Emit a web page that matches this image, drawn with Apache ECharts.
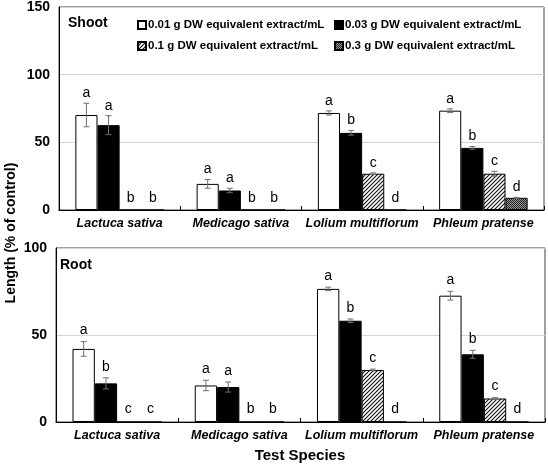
<!DOCTYPE html>
<html><head><meta charset="utf-8">
<script src="https://cdn.jsdelivr.net/npm/echarts@6/dist/echarts.min.js"></script>
<style>html,body{margin:0;padding:0;background:#fff}#c{width:548px;height:466px}</style>
</head><body><div id="c"></div>
<script>
const categories = ['Lactuca sativa', 'Medicago sativa', 'Lolium multiflorum', 'Phleum pratense'];
const seriesNames = ['0.01 g DW equivalent extract/mL', '0.03 g DW equivalent extract/mL', '0.1 g DW equivalent extract/mL', '0.3 g DW equivalent extract/mL'];

// Shoot (% of control)
const shoot001 = [70.2, 19.3, 71.7, 73.4];
const shoot003 = [62.7, 14.4, 57.0, 45.9];
const shoot01  = [0, 0, 26.8, 26.8];
const shoot03  = [0, 0, 0, 9.0];
const shootErr001 = [8.7, 3.2, 1.5, 1.4];
const shootErr003 = [7.0, 1.6, 1.7, 1.0];
const shootErr01  = [0, 0, 0.6, 1.8];
const shootErr03  = [0, 0, 0, 0.3];
const shootLet001 = ['a', 'a', 'a', 'a'];
const shootLet003 = ['a', 'a', 'b', 'b'];
const shootLet01  = ['b', 'b', 'c', 'c'];
const shootLet03  = ['b', 'b', 'd', 'd'];

// Root (% of control)
const root001 = [42.0, 21.0, 76.5, 72.6];
const root003 = [22.2, 20.1, 58.2, 38.9];
const root01  = [0, 0, 29.9, 13.5];
const root03  = [0, 0, 0, 0];
const rootErr001 = [4.2, 3.0, 1.0, 2.5];
const rootErr003 = [3.2, 2.9, 1.0, 2.3];
const rootErr01  = [0, 0, 0.5, 0.5];
const rootErr03  = [0, 0, 0, 0];
const rootLet001 = ['a', 'a', 'a', 'a'];
const rootLet003 = ['b', 'a', 'b', 'b'];
const rootLet01  = ['c', 'b', 'c', 'c'];
const rootLet03  = ['c', 'b', 'd', 'd'];

const shootTicks = [0, 50, 100, 150];
const rootTicks = [0, 50, 100];

const FONT = 'Liberation Sans, Arial, sans-serif';
const GAP = 0.27;

function hatchPattern() {
  const c = document.createElement('canvas');
  c.width = 4; c.height = 4;
  const g = c.getContext('2d');
  g.fillStyle = '#fff'; g.fillRect(0, 0, 4, 4);
  g.strokeStyle = '#111'; g.lineWidth = 1.1;
  g.beginPath();
  g.moveTo(-1, 5); g.lineTo(5, -1);
  g.moveTo(-1, 1); g.lineTo(1, -1);
  g.moveTo(3, 5); g.lineTo(5, 3);
  g.stroke();
  return c;
}
function checkPattern() {
  const c = document.createElement('canvas');
  c.width = 2; c.height = 2;
  const g = c.getContext('2d');
  g.fillStyle = '#9a9a9a'; g.fillRect(0, 0, 2, 2);
  g.fillStyle = '#222'; g.fillRect(0, 0, 1, 1); g.fillRect(1, 1, 1, 1);
  return c;
}
const fills = ['#ffffff', '#000000',
  { image: hatchPattern(), repeat: 'repeat' },
  { image: checkPattern(), repeat: 'repeat' }];

function barSeries(gi, si, vals) {
  return {
    type: 'bar', name: seriesNames[si], xAxisIndex: gi, yAxisIndex: gi,
    data: vals, barGap: '0%', barCategoryGap: (GAP * 100) + '%',
    itemStyle: { color: fills[si], borderColor: '#000', borderWidth: 1 },
    emphasis: { disabled: true }, z: 2
  };
}
function errSeries(gi, si, vals, errs, letters, off) {
  return {
    type: 'custom', xAxisIndex: gi, yAxisIndex: gi, z: 10, silent: true,
    data: vals.map((v, i) => [i, v, errs[i]]),
    encode: { x: 0, y: 1 },
    renderItem: function (params, api) {
      const ci = api.value(0), v = api.value(1), e = api.value(2);
      const band = api.size([1, 0])[0];
      const bw = band * (1 - GAP) / 4;
      const cx = api.coord([ci, 0])[0] - 2 * bw + (si + 0.5) * bw;
      const yTop = api.coord([ci, v + e])[1];
      const yBot = api.coord([ci, v - e])[1];
      const children = [];
      if (e > 0) {
        const st = { stroke: '#707070', lineWidth: 1 };
        children.push({ type: 'line', shape: { x1: cx, y1: yTop, x2: cx, y2: yBot }, style: st });
        children.push({ type: 'line', shape: { x1: cx - 3, y1: yTop, x2: cx + 3, y2: yTop }, style: st });
        children.push({ type: 'line', shape: { x1: cx - 3, y1: yBot, x2: cx + 3, y2: yBot }, style: st });
      }
      const dy = off + (v === 0 ? 2 : 0);
      children.push({ type: 'text', x: cx, y: yTop - dy,
        style: { text: letters[params.dataIndex], fill: '#000', font: '14px ' + FONT,
          textAlign: 'center', textVerticalAlign: 'middle' } });
      return { type: 'group', children: children };
    }
  };
}

function xAxis(gi) {
  return {
    type: 'category', gridIndex: gi, data: categories,
    axisLine: { lineStyle: { color: '#000', width: 1 } },
    axisTick: { show: true, inside: true, length: 4, lineStyle: { color: '#000' } },
    axisLabel: { color: '#000', fontSize: 12.5, fontWeight: 'bold', fontStyle: 'italic', fontFamily: FONT, margin: 7, interval: 0 }
  };
}
function yAxis(gi, ticks) {
  return {
    type: 'value', gridIndex: gi, min: ticks[0], max: ticks[ticks.length - 1], interval: 50,
    axisLine: { show: true, lineStyle: { color: '#000', width: 1 } },
    axisTick: { show: false },
    splitLine: { lineStyle: { color: '#d4d4d4', width: 1 } },
    axisLabel: { color: '#000', fontSize: 14, fontWeight: 'bold', fontFamily: FONT, margin: 9 }
  };
}

function legendAt(name, left, top) {
  return {
    data: [name], left: left, top: top, icon: 'rect', itemWidth: 8, itemHeight: 8,
    padding: 0, selectedMode: false,
    textStyle: { color: '#000', fontSize: 11.5, fontWeight: 'bold', fontFamily: FONT, padding: [0, 0, 0, -3] }
  };
}

const chart = echarts.init(document.getElementById('c'), null, { renderer: 'canvas' });
chart.setOption({
  animation: false,
  backgroundColor: '#fff',
  grid: [
    { left: 59, right: 4, top: 5, height: 205, show: true, borderColor: '#404040', borderWidth: 1, containLabel: false },
    { left: 56, right: 3, top: 248, height: 174, show: true, borderColor: '#404040', borderWidth: 1, containLabel: false }
  ],
  xAxis: [xAxis(0), xAxis(1)],
  yAxis: [yAxis(0, shootTicks), yAxis(1, rootTicks)],
  legend: [
    legendAt(seriesNames[0], 137, 19),
    legendAt(seriesNames[1], 334, 19),
    legendAt(seriesNames[2], 137, 40),
    legendAt(seriesNames[3], 334, 40)
  ],
  graphic: [
    { type: 'text', left: 68, top: 16, style: { text: 'Shoot', font: 'bold 14px ' + FONT, fill: '#000' } },
    { type: 'text', left: 60, top: 258, style: { text: 'Root', font: 'bold 14px ' + FONT, fill: '#000' } },
    { type: 'text', x: 11, y: 233, rotation: Math.PI / 2,
      style: { text: 'Length (% of control)', font: 'bold 14px ' + FONT, fill: '#000', textAlign: 'center', textVerticalAlign: 'middle' } },
    { type: 'text', x: 300, y: 456,
      style: { text: 'Test Species', font: 'bold 15px ' + FONT, fill: '#000', textAlign: 'center', textVerticalAlign: 'middle' } }
  ],
  series: [
    barSeries(0, 0, shoot001), barSeries(0, 1, shoot003), barSeries(0, 2, shoot01), barSeries(0, 3, shoot03),
    barSeries(1, 0, root001), barSeries(1, 1, root003), barSeries(1, 2, root01), barSeries(1, 3, root03),
    errSeries(0, 0, shoot001, shootErr001, shootLet001, 10),
    errSeries(0, 1, shoot003, shootErr003, shootLet003, 10),
    errSeries(0, 2, shoot01, shootErr01, shootLet01, 10),
    errSeries(0, 3, shoot03, shootErr03, shootLet03, 10),
    errSeries(1, 0, root001, rootErr001, rootLet001, 11),
    errSeries(1, 1, root003, rootErr003, rootLet003, 11),
    errSeries(1, 2, root01, rootErr01, rootLet01, 11),
    errSeries(1, 3, root03, rootErr03, rootLet03, 11)
  ]
});
</script></body></html>
